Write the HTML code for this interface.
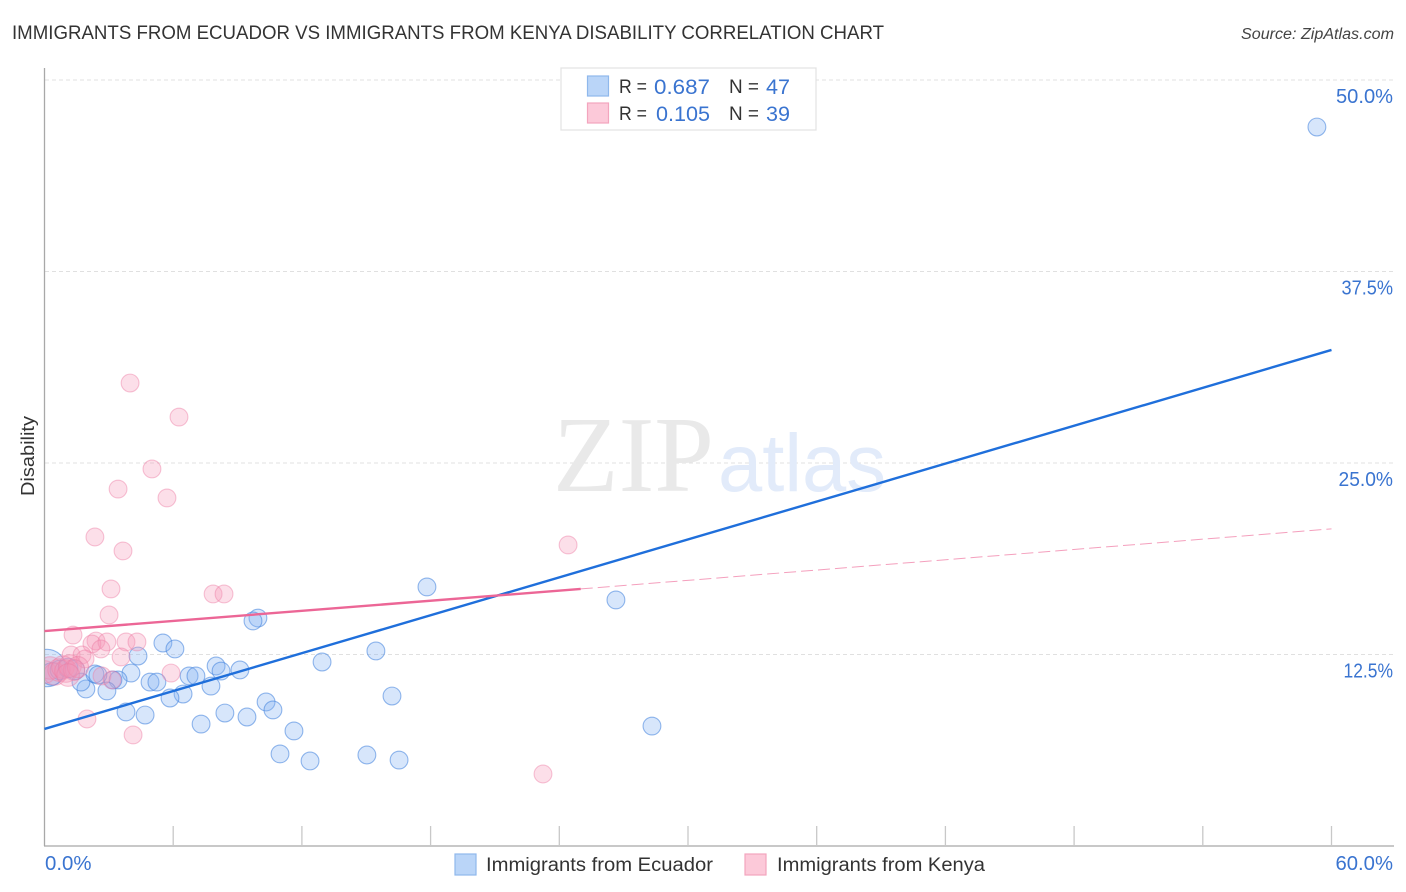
<!DOCTYPE html>
<html lang="en">
<head>
<meta charset="utf-8">
<title>Immigrants from Ecuador vs Immigrants from Kenya Disability Correlation Chart</title>
<style>
html,body{margin:0;padding:0;background:#fff;width:1406px;height:892px;overflow:hidden}
svg{display:block;font-family:"Liberation Sans",Arial,sans-serif}
</style>
</head>
<body>
<svg id="chart" xmlns="http://www.w3.org/2000/svg" width="1406" height="892" viewBox="0 0 1406 892">
  <defs>
    <clipPath id="plot-clip"><rect x="45" y="60" width="1349" height="786"/></clipPath>
  </defs>
  <rect x="0" y="0" width="1406" height="892" fill="#fff"/>
  <text x="12" y="39" font-size="19" fill="#333" textLength="872" lengthAdjust="spacingAndGlyphs">IMMIGRANTS FROM ECUADOR VS IMMIGRANTS FROM KENYA DISABILITY CORRELATION CHART</text>
  <text x="1241" y="39" font-size="15.5" font-style="italic" fill="#444" textLength="153" lengthAdjust="spacingAndGlyphs">Source: ZipAtlas.com</text>

  <g id="grid"></g>
  <g>
    <text x="553" y="491" font-family="'Liberation Serif',serif" font-size="108" fill="#e9e9e9" textLength="161" lengthAdjust="spacingAndGlyphs">ZIP</text>
    <text x="718" y="491" font-size="82" fill="#e2ebfa" textLength="168" lengthAdjust="spacingAndGlyphs">atlas</text>
  </g>
  <g id="axes"></g>
  <g id="points" clip-path="url(#plot-clip)"></g>
  <g id="trends"></g>

  <text transform="translate(34,456) rotate(-90)" font-size="18" fill="#333" text-anchor="middle" textLength="80" lengthAdjust="spacingAndGlyphs">Disability</text>

  <g>
    <rect x="561" y="68" width="255" height="62" fill="#fff" stroke="#e2e2e2" stroke-width="1.2"/>
    <rect x="587.5" y="76" width="21" height="20" fill="#bad5f8" stroke="#8fb8ec" stroke-width="1.2"/>
    <rect x="587.5" y="103" width="21" height="20" fill="#fcc9d9" stroke="#f3a5be" stroke-width="1.2"/>
    <text x="619" y="93" font-size="19" fill="#333" textLength="28" lengthAdjust="spacingAndGlyphs">R =</text>
    <text x="654" y="94" font-size="21" fill="#3a74d0" textLength="56" lengthAdjust="spacingAndGlyphs">0.687</text>
    <text x="729" y="93" font-size="19" fill="#333" textLength="30" lengthAdjust="spacingAndGlyphs">N =</text>
    <text x="766" y="94" font-size="21" fill="#3a74d0" textLength="24" lengthAdjust="spacingAndGlyphs">47</text>
    <text x="619" y="120" font-size="19" fill="#333" textLength="28" lengthAdjust="spacingAndGlyphs">R =</text>
    <text x="656" y="121" font-size="21" fill="#3a74d0" textLength="54" lengthAdjust="spacingAndGlyphs">0.105</text>
    <text x="729" y="120" font-size="19" fill="#333" textLength="30" lengthAdjust="spacingAndGlyphs">N =</text>
    <text x="766" y="121" font-size="21" fill="#3a74d0" textLength="24" lengthAdjust="spacingAndGlyphs">39</text>
  </g>

  <g>
    <rect x="455" y="854" width="21" height="21" fill="#bad5f8" stroke="#8fb8ec" stroke-width="1.2"/>
    <text x="486" y="871" font-size="19" fill="#333" textLength="227" lengthAdjust="spacingAndGlyphs">Immigrants from Ecuador</text>
    <rect x="745" y="854" width="21" height="21" fill="#fcc9d9" stroke="#f3a5be" stroke-width="1.2"/>
    <text x="777" y="871" font-size="19" fill="#333" textLength="208" lengthAdjust="spacingAndGlyphs">Immigrants from Kenya</text>
  </g>
</svg>
<script>
// Axis values
const xTickValues = [0, 6, 12, 18, 24, 30, 36, 42, 48, 54, 60];
const yGridValues = [12.5, 25, 37.5, 50];
const yTickLabels = ['12.5%', '25.0%', '37.5%', '50.0%'];
const xEndLabels = ['0.0%', '60.0%'];

// Immigrants from Ecuador: x %, y %, relative population
const ecuadorX = [59.32,26.64,17.83,28.32,16.20,15.45,12.94,9.95,9.72,5.52,6.08,4.36,8.00,8.23,9.11,4.03,6.74,7.06,4.92,5.24,7.76,6.46,5.85,3.43,3.19,2.91,1.93,1.70,2.35,2.49,3.80,4.69,7.30,8.41,9.44,10.33,10.65,11.63,10.98,12.38,15.03,16.53,0.12,0.35,0.72,1.10,1.42];
const ecuadorY = [46.93,16.06,16.91,7.83,9.79,12.73,12.01,14.88,14.69,13.25,12.86,12.40,11.75,11.42,11.49,11.29,11.10,11.10,10.70,10.70,10.44,9.92,9.66,10.84,10.84,10.12,10.25,10.70,11.23,11.16,8.75,8.55,7.96,8.68,8.42,9.40,8.88,7.51,6.01,5.55,5.94,5.61,11.62,11.23,11.49,11.62,11.49];
const ecuadorPop = [1,1,1,1,1,1,1,1,1,1,1,1,1,1,1,1,1,1,1,1,1,1,1,1,1,1,1,1,1,1,1,1,1,1,1,1,1,1,1,1,1,1,4.4,1.6,1.2,1.2,1.2];

// Immigrants from Kenya: x %, y %, relative population
const kenyaX = [3.99,6.27,5.01,3.43,5.71,2.35,3.66,24.41,3.10,7.86,8.37,3.01,1.33,2.40,2.21,2.91,2.63,3.80,4.31,3.57,1.24,1.75,1.89,5.90,2.68,3.15,1.98,4.13,23.24,0.02,0.26,0.49,0.68,0.86,1.00,1.19,1.38,1.56,1.10];
const kenyaY = [30.22,28.00,24.61,23.30,22.72,20.17,19.26,19.65,16.78,16.45,16.45,15.08,13.77,13.38,13.19,13.32,12.86,13.32,13.32,12.34,12.47,12.47,12.21,11.29,11.10,10.84,8.29,7.25,4.70,11.36,11.62,11.23,11.49,11.68,11.42,11.75,11.49,11.68,11.16];
const kenyaPop = [1,1,1,1,1,1,1,1,1,1,1,1,1,1,1,1,1,1,1,1,1,1,1,1,1,1,1,1,1,1.6,1.6,1.6,1.6,1.6,1.6,1.6,1.4,1.4,1.6];

// Trend lines: x % and y % at their end points
const ecuadorTrendX = [0, 60];
const ecuadorTrendY = [7.64, 32.38];
const kenyaSolidX = [0, 25];
const kenyaSolidY = [14.03, 16.78];
const kenyaDashedX = [25, 60];
const kenyaDashedY = [16.78, 20.70];

// Axis functions
const xScale = v => 44.5 + v * 21.45;
const yScale = v => 846 - v * 15.32;
const SVG_NS = 'http://www.w3.org/2000/svg';

// Tick text uses wide zeros and a narrow one, so its width comes from per-glyph advances
const glyphAdvance = {'0': 12.5, '1': 7.5, '2': 10, '3': 10.5, '5': 10.5, '6': 11, '7': 9, '.': 5, '%': 16.5};
const tickTextWidth = s => s.split('').reduce((sum, c) => sum + glyphAdvance[c], 0);

function make(parent, tag, attrs) {
  const el = document.createElementNS(SVG_NS, tag);
  for (const k in attrs) el.setAttribute(k, attrs[k]);
  parent.appendChild(el);
  return el;
}

const gridG = document.getElementById('grid');
const axesG = document.getElementById('axes');
const pointsG = document.getElementById('points');
const trendsG = document.getElementById('trends');

yGridValues.forEach((v, i) => {
  const line = make(gridG, 'line', {x1: 45, x2: 1394, y1: yScale(v), y2: yScale(v), stroke: '#e0e0e0', 'stroke-width': 1, 'stroke-dasharray': '4 3'});
  
  
  const width = tickTextWidth(yTickLabels[i]);
  const label = make(axesG, 'text', {x: 1393 - width, y: yScale(v) + 23, 'font-size': 20, fill: '#3a74d0', textLength: width, lengthAdjust: 'spacingAndGlyphs'});
  
  
  label.textContent = yTickLabels[i];
});

const yAxis = make(axesG, 'line', {x1: 44.5, x2: 44.5, y1: 68, y2: 846, stroke: '#a8a8a8', 'stroke-width': 1.3});


const xAxis = make(axesG, 'line', {x1: 44, x2: 1394, y1: 846, y2: 846, stroke: '#a8a8a8', 'stroke-width': 1.3});



xTickValues.slice(1).forEach(v => {
  const tick = make(axesG, 'line', {x1: xScale(v), x2: xScale(v), y1: 826, y2: 846, stroke: '#c8c8c8', 'stroke-width': 1.3});
  
  
});

const xLabelStart = make(axesG, 'text', {x: 45, y: 870, 'font-size': 20, fill: '#3a74d0', textLength: tickTextWidth(xEndLabels[0]), lengthAdjust: 'spacingAndGlyphs'});


xLabelStart.textContent = xEndLabels[0];
const xLabelEnd = make(axesG, 'text', {x: 1393 - tickTextWidth(xEndLabels[1]), y: 870, 'font-size': 20, fill: '#3a74d0', textLength: tickTextWidth(xEndLabels[1]), lengthAdjust: 'spacingAndGlyphs'});


xLabelEnd.textContent = xEndLabels[1];

ecuadorX.forEach((v, i) => {
  const dot = make(pointsG, 'circle', {cx: xScale(v), cy: yScale(ecuadorY[i]), r: 8.9 * Math.sqrt(ecuadorPop[i]), fill: 'rgba(130,178,242,0.32)', stroke: 'rgba(62,128,220,0.55)', 'stroke-width': 1.1});
  
  
});
kenyaX.forEach((v, i) => {
  const dot = make(pointsG, 'circle', {cx: xScale(v), cy: yScale(kenyaY[i]), r: 8.9 * Math.sqrt(kenyaPop[i]), fill: 'rgba(246,150,182,0.3)', stroke: 'rgba(238,125,165,0.45)', 'stroke-width': 1.1});
  
  
});

const kenyaDash = make(trendsG, 'line', {x1: xScale(kenyaDashedX[0]), y1: yScale(kenyaDashedY[0]), x2: xScale(kenyaDashedX[1]), y2: yScale(kenyaDashedY[1]), stroke: '#ef6d9a', 'stroke-width': 1, 'stroke-dasharray': '12 5', opacity: 0.65});


const ecuadorLine = make(trendsG, 'line', {x1: xScale(ecuadorTrendX[0]), y1: yScale(ecuadorTrendY[0]), x2: xScale(ecuadorTrendX[1]), y2: yScale(ecuadorTrendY[1]), stroke: '#1f6fdb', 'stroke-width': 2.4});


const kenyaLine = make(trendsG, 'line', {x1: xScale(kenyaSolidX[0]), y1: yScale(kenyaSolidY[0]), x2: xScale(kenyaSolidX[1]), y2: yScale(kenyaSolidY[1]), stroke: '#ec6696', 'stroke-width': 2.4});


</script>
</body>
</html>
